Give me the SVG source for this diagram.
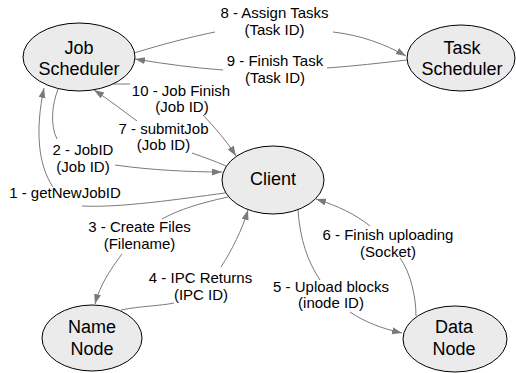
<svg xmlns="http://www.w3.org/2000/svg" width="516" height="373" viewBox="0 0 516 373">
<style>
.node ellipse{fill:#ebebeb;stroke:#000;stroke-width:1}
.node text{font-family:"Liberation Sans",Arial,sans-serif;font-size:18px;fill:#000;text-anchor:middle}
.edge path{fill:none;stroke:#7a7a7a;stroke-width:1;marker-end:url(#arr)}
.lbl{font-family:"Liberation Sans",Arial,sans-serif;font-size:15px;fill:#000;text-anchor:middle}
</style>
<defs>
<marker id="arr" markerUnits="userSpaceOnUse" markerWidth="11" markerHeight="8" refX="10" refY="3.5" orient="auto">
<path d="M0,0 L10,3.5 L0,7 z" fill="#7a7a7a"/>
</marker>
</defs>
<g id="connectors" class="edge">
<path id="e1" d="M225,193 C180,199 120,208 82,206 M53,187 C38,165 35,130 44,88"/>
<path id="e2" d="M58,89 C52,105 50,125 57,139 M115,165 C150,170 190,172 222,172"/>
<path id="e3" d="M228,197 C200,203 178,210 162,219 M122,254 C110,270 100,285 95,304"/>
<path id="e4" d="M121,310 C140,306 160,306 174,303 M221,267 C232,250 242,230 248,210"/>
<path id="e5" d="M298,210 C300,240 308,262 320,280 M350,312 C365,322 380,328 402,333"/>
<path id="e6" d="M416,316 C416,295 410,272 400,258 M370,226 C355,214 338,206 316,199"/>
<path id="e7" d="M226,166 C215,161 203,157 192,153 M137,121 C122,110 108,99 94,90"/>
<path id="e8" d="M134,53 C160,45 190,37 215,32 M333,32 C360,35 385,44 406,56"/>
<path id="e9" d="M407,60 C380,63 355,66 327,68 M223,70 C195,68 165,64 135,59"/>
<path id="e10" d="M113,84 L130,84 M203,115 C215,128 226,140 236,156"/>
</g>
<g id="labels">
<text class="lbl" x="274.5" y="18">8 - Assign Tasks</text>
<text class="lbl" x="274.5" y="35">(Task ID)</text>
<text class="lbl" x="275" y="66">9 - Finish Task</text>
<text class="lbl" x="275" y="83">(Task ID)</text>
<text class="lbl" x="181" y="95.5">10 - Job Finish</text>
<text class="lbl" x="182" y="112.3">(Job ID)</text>
<text class="lbl" x="163.5" y="133.5">7 - submitJob</text>
<text class="lbl" x="163.5" y="150.3">(Job ID)</text>
<text class="lbl" x="83" y="155">2 - JobID</text>
<text class="lbl" x="83" y="171.7">(Job ID)</text>
<text class="lbl" x="65" y="197.5">1 - getNewJobID</text>
<text class="lbl" x="139.5" y="232">3 - Create Files</text>
<text class="lbl" x="139.5" y="248.8">(Filename)</text>
<text class="lbl" x="200.5" y="283">4 - IPC Returns</text>
<text class="lbl" x="201" y="299.8">(IPC ID)</text>
<text class="lbl" x="331" y="291.5">5 - Upload blocks</text>
<text class="lbl" x="331" y="308.3">(inode ID)</text>
<text class="lbl" x="388" y="240">6 - Finish uploading</text>
<text class="lbl" x="388" y="256.8">(Socket)</text>
</g>
<g id="job-scheduler" class="node">
<ellipse cx="79" cy="57" rx="56" ry="34"/>
<text x="79" y="53.5">Job</text>
<text x="79" y="75">Scheduler</text>
</g>
<g id="task-scheduler" class="node">
<ellipse cx="461" cy="58" rx="54" ry="33"/>
<text x="462" y="53.5">Task</text>
<text x="462" y="75">Scheduler</text>
</g>
<g id="client" class="node">
<ellipse cx="273" cy="180" rx="51" ry="34"/>
<text x="273" y="185">Client</text>
</g>
<g id="name-node" class="node">
<ellipse cx="92" cy="338" rx="50" ry="33"/>
<text x="92" y="333">Name</text>
<text x="92" y="355">Node</text>
</g>
<g id="data-node" class="node">
<ellipse cx="455" cy="339" rx="52" ry="33"/>
<text x="454" y="333">Data</text>
<text x="454" y="355">Node</text>
</g>
</svg>
